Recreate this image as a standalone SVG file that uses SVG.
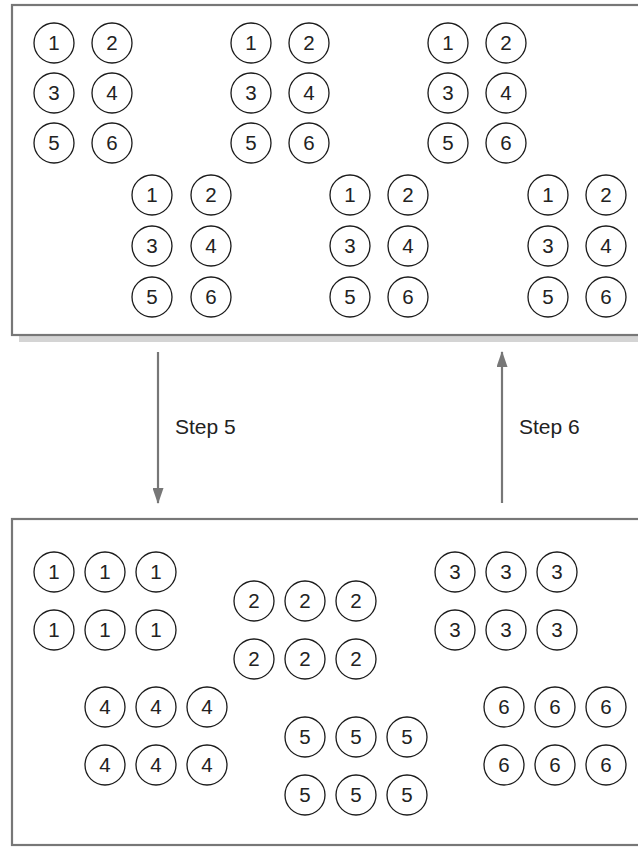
<svg xmlns="http://www.w3.org/2000/svg" width="638" height="850" viewBox="0 0 638 850">
<style>
.box{fill:#fff;stroke:#777;stroke-width:2.2}
.shadow{fill:#d4d4d4}
.n circle{fill:#fff;stroke:#1a1a1a;stroke-width:1.3}
.n text{font-family:"Liberation Sans",Arial,sans-serif;font-size:20.5px;fill:#222;text-anchor:middle}
.lbl{font-family:"Liberation Sans",Arial,sans-serif;font-size:21px;fill:#222}
.conn line{stroke:#777;stroke-width:2.2}
</style>
<defs>
<marker id="tri" viewBox="0 0 16 11" refX="15" refY="5.5" markerWidth="16" markerHeight="11" markerUnits="userSpaceOnUse" orient="auto">
<path d="M0,0 L16,5.5 L0,11 Z" fill="#777"/>
</marker>
</defs>
<g id="top-panel">
<rect class="shadow" x="19" y="12" width="700" height="330"/>
<rect class="box" x="12" y="5" width="700" height="330"/>
</g>
<g id="bottom-panel">
<rect class="box" x="12" y="519" width="700" height="326"/>
</g>
<g class="conn" id="connectors">
<line x1="158" y1="352" x2="158" y2="503" marker-end="url(#tri)"/>
<line x1="502" y1="503" x2="502" y2="352" marker-end="url(#tri)"/>
</g>
<text class="lbl" x="175" y="434">Step 5</text>
<text class="lbl" x="519" y="434">Step 6</text>
<g id="t1" class="n">
<circle cx="54" cy="43" r="20"/><text x="54" y="50">1</text>
<circle cx="112" cy="43" r="20"/><text x="112" y="50">2</text>
<circle cx="54" cy="93" r="20"/><text x="54" y="100">3</text>
<circle cx="112" cy="93" r="20"/><text x="112" y="100">4</text>
<circle cx="54" cy="143" r="20"/><text x="54" y="150">5</text>
<circle cx="112" cy="143" r="20"/><text x="112" y="150">6</text>
</g>
<g id="t2" class="n">
<circle cx="251" cy="43" r="20"/><text x="251" y="50">1</text>
<circle cx="309" cy="43" r="20"/><text x="309" y="50">2</text>
<circle cx="251" cy="93" r="20"/><text x="251" y="100">3</text>
<circle cx="309" cy="93" r="20"/><text x="309" y="100">4</text>
<circle cx="251" cy="143" r="20"/><text x="251" y="150">5</text>
<circle cx="309" cy="143" r="20"/><text x="309" y="150">6</text>
</g>
<g id="t3" class="n">
<circle cx="448" cy="43" r="20"/><text x="448" y="50">1</text>
<circle cx="506" cy="43" r="20"/><text x="506" y="50">2</text>
<circle cx="448" cy="93" r="20"/><text x="448" y="100">3</text>
<circle cx="506" cy="93" r="20"/><text x="506" y="100">4</text>
<circle cx="448" cy="143" r="20"/><text x="448" y="150">5</text>
<circle cx="506" cy="143" r="20"/><text x="506" y="150">6</text>
</g>
<g id="t4" class="n">
<circle cx="152" cy="195" r="20"/><text x="152" y="202">1</text>
<circle cx="211" cy="195" r="20"/><text x="211" y="202">2</text>
<circle cx="152" cy="246" r="20"/><text x="152" y="253">3</text>
<circle cx="211" cy="246" r="20"/><text x="211" y="253">4</text>
<circle cx="152" cy="297" r="20"/><text x="152" y="304">5</text>
<circle cx="211" cy="297" r="20"/><text x="211" y="304">6</text>
</g>
<g id="t5" class="n">
<circle cx="350" cy="195" r="20"/><text x="350" y="202">1</text>
<circle cx="408" cy="195" r="20"/><text x="408" y="202">2</text>
<circle cx="350" cy="246" r="20"/><text x="350" y="253">3</text>
<circle cx="408" cy="246" r="20"/><text x="408" y="253">4</text>
<circle cx="350" cy="297" r="20"/><text x="350" y="304">5</text>
<circle cx="408" cy="297" r="20"/><text x="408" y="304">6</text>
</g>
<g id="t6" class="n">
<circle cx="548" cy="195" r="20"/><text x="548" y="202">1</text>
<circle cx="606" cy="195" r="20"/><text x="606" y="202">2</text>
<circle cx="548" cy="246" r="20"/><text x="548" y="253">3</text>
<circle cx="606" cy="246" r="20"/><text x="606" y="253">4</text>
<circle cx="548" cy="297" r="20"/><text x="548" y="304">5</text>
<circle cx="606" cy="297" r="20"/><text x="606" y="304">6</text>
</g>
<g id="b1" class="n">
<circle cx="54" cy="572" r="20"/><text x="54" y="579">1</text>
<circle cx="105" cy="572" r="20"/><text x="105" y="579">1</text>
<circle cx="156" cy="572" r="20"/><text x="156" y="579">1</text>
<circle cx="54" cy="630" r="20"/><text x="54" y="637">1</text>
<circle cx="105" cy="630" r="20"/><text x="105" y="637">1</text>
<circle cx="156" cy="630" r="20"/><text x="156" y="637">1</text>
</g>
<g id="b2" class="n">
<circle cx="254" cy="601" r="20"/><text x="254" y="608">2</text>
<circle cx="305" cy="601" r="20"/><text x="305" y="608">2</text>
<circle cx="356" cy="601" r="20"/><text x="356" y="608">2</text>
<circle cx="254" cy="659" r="20"/><text x="254" y="666">2</text>
<circle cx="305" cy="659" r="20"/><text x="305" y="666">2</text>
<circle cx="356" cy="659" r="20"/><text x="356" y="666">2</text>
</g>
<g id="b3" class="n">
<circle cx="455" cy="572" r="20"/><text x="455" y="579">3</text>
<circle cx="506" cy="572" r="20"/><text x="506" y="579">3</text>
<circle cx="557" cy="572" r="20"/><text x="557" y="579">3</text>
<circle cx="455" cy="630" r="20"/><text x="455" y="637">3</text>
<circle cx="506" cy="630" r="20"/><text x="506" y="637">3</text>
<circle cx="557" cy="630" r="20"/><text x="557" y="637">3</text>
</g>
<g id="b4" class="n">
<circle cx="105" cy="707" r="20"/><text x="105" y="714">4</text>
<circle cx="156" cy="707" r="20"/><text x="156" y="714">4</text>
<circle cx="207" cy="707" r="20"/><text x="207" y="714">4</text>
<circle cx="105" cy="765" r="20"/><text x="105" y="772">4</text>
<circle cx="156" cy="765" r="20"/><text x="156" y="772">4</text>
<circle cx="207" cy="765" r="20"/><text x="207" y="772">4</text>
</g>
<g id="b5" class="n">
<circle cx="305" cy="737" r="20"/><text x="305" y="744">5</text>
<circle cx="356" cy="737" r="20"/><text x="356" y="744">5</text>
<circle cx="407" cy="737" r="20"/><text x="407" y="744">5</text>
<circle cx="305" cy="795" r="20"/><text x="305" y="802">5</text>
<circle cx="356" cy="795" r="20"/><text x="356" y="802">5</text>
<circle cx="407" cy="795" r="20"/><text x="407" y="802">5</text>
</g>
<g id="b6" class="n">
<circle cx="504" cy="707" r="20"/><text x="504" y="714">6</text>
<circle cx="555" cy="707" r="20"/><text x="555" y="714">6</text>
<circle cx="606" cy="707" r="20"/><text x="606" y="714">6</text>
<circle cx="504" cy="765" r="20"/><text x="504" y="772">6</text>
<circle cx="555" cy="765" r="20"/><text x="555" y="772">6</text>
<circle cx="606" cy="765" r="20"/><text x="606" y="772">6</text>
</g>
</svg>
